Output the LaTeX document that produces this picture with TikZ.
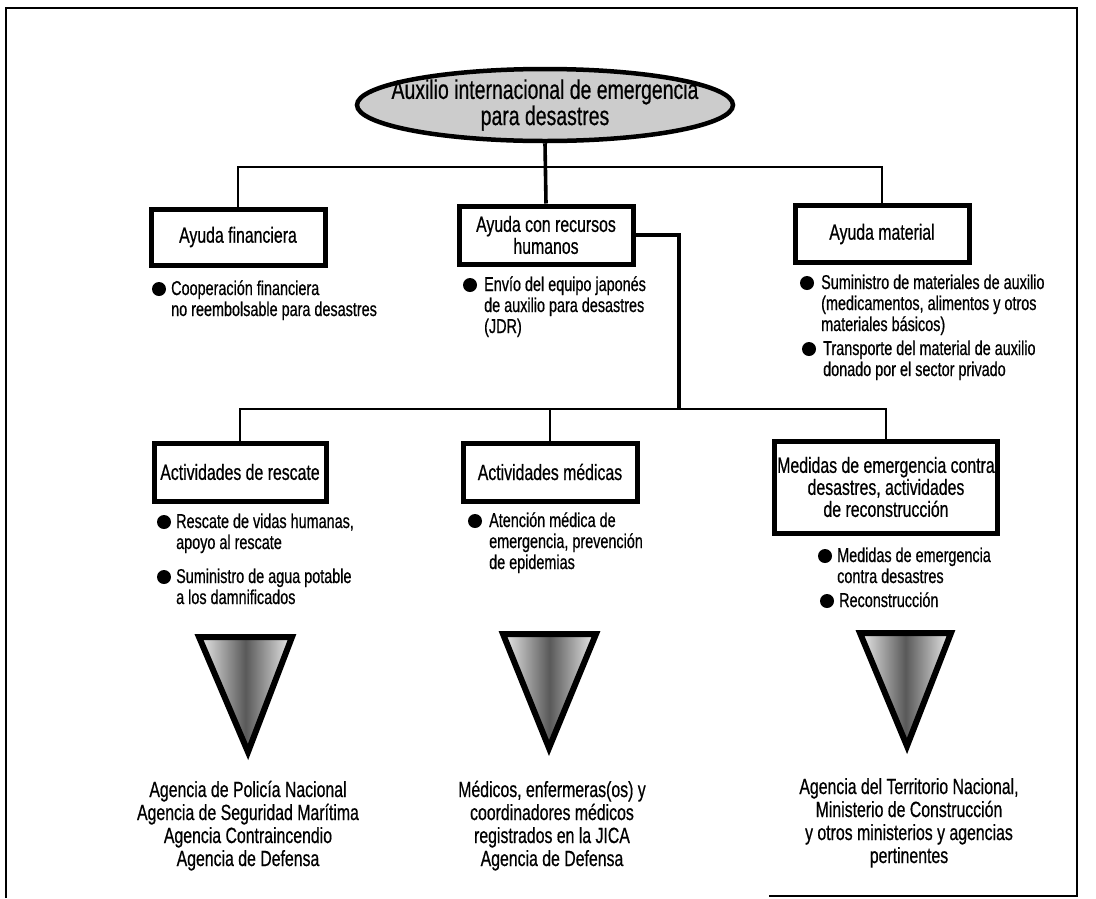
\documentclass[tikz,border=0pt]{standalone}
\usepackage{fontspec}
\setmainfont{Liberation Sans}[FakeStretch=0.72,FakeBold=0.6]
\usetikzlibrary{shapes.geometric}
\begin{document}
\begin{tikzpicture}[x=1pt,y=-1pt,
  box/.style={draw=black, line width=5pt, fill=white, align=center, inner sep=2pt, font=\fontsize{22}{22}\selectfont},
  conn/.style={line width=2.2pt},
  thickconn/.style={line width=3.6pt},
  bul/.style={circle, fill=black, inner sep=0pt, minimum size=14pt},
  btxt/.style={anchor=base west, align=left, inner sep=0pt, font=\fontsize{20}{21}\selectfont},
  ftxt/.style={anchor=base, align=center, inner sep=0pt, font=\fontsize{22}{23}\selectfont},
  tri/.style={draw=black, line width=6pt, line join=miter, left color=gray!15, right color=gray!15, middle color=black!65}
]
\useasboundingbox (0,0) rectangle (1096,898);
% frame
\draw[line width=1.8pt] (6,898) -- (6,8) -- (1077,8) -- (1077,896) -- (769,896);
% title
\node[ellipse, draw=black, line width=4.5pt, fill=gray!40, minimum width=376pt, minimum height=72pt, inner sep=0pt] (ell) at (545,105) {};
\node[font=\fontsize{27}{23}\selectfont, align=center, inner sep=0pt] (title) at (ell.center) {Auxilio internacional de emergencia\\para desastres};
% boxes top
\node[box, minimum width=174pt, minimum height=56pt] (fin) at (238,237) {Ayuda financiera};
\node[box, minimum width=174pt, minimum height=58pt] (hum) at (546,235) {Ayuda con recursos\\humanos};
\node[box, minimum width=174pt, minimum height=57pt] (mat) at (882,234) {Ayuda material};
% boxes bottom
\node[box, minimum width=172pt, minimum height=58pt] (res) at (240,472) {Actividades de rescate};
\node[box, minimum width=174pt, minimum height=58pt] (med) at (550,472) {Actividades médicas};
\node[box, minimum width=223pt, minimum height=92pt] (rec) at (886,487) {Medidas de emergencia contra\\desastres, actividades\\de reconstrucción};
% connectors
\coordinate (b1) at (546,167);
\coordinate (b2) at (679,409);
\draw[thickconn] (ell.south) -- (hum.north);
\draw[conn] (fin.north) |- (b1) -| (mat.north);
\draw[thickconn] (hum.east) -| (b2);
\draw[conn] (res.north) |- (b2) -| (rec.north);
\draw[conn] (med.north) -- (med.north |- b2);
% bullets top (base anchor = last line)
\node[bul] (d1) at (159,289) {};
\node[btxt] (t1) at (171,316) {Cooperación financiera\\no reembolsable para desastres};
\node[bul] (d2) at (470,285) {};
\node[btxt] (t2) at (484,333) {Envío del equipo japonés\\de auxilio para desastres\\(JDR)};
\node[bul] (d3) at (807,283) {};
\node[btxt] (t3) at (821,331) {Suministro de materiales de auxilio\\(medicamentos, alimentos y otros\\materiales básicos)};
\node[bul] (d4) at (809,349) {};
\node[btxt] (t4) at (823,376) {Transporte del material de auxilio\\donado por el sector privado};
% bullets bottom
\node[bul] (d5) at (164,522) {};
\node[btxt] (t5) at (176,549) {Rescate de vidas humanas,\\apoyo al rescate};
\node[bul] (d6) at (164,577) {};
\node[btxt] (t6) at (176,604) {Suministro de agua potable\\a los damnificados};
\node[bul] (d7) at (475,521) {};
\node[btxt] (t7) at (489,569) {Atención médica de\\emergencia, prevención\\de epidemias};
\node[bul] (d8) at (825,556) {};
\node[btxt] (t8) at (837,583) {Medidas de emergencia\\contra desastres};
\node[bul] (d9) at (827,601) {};
\node[btxt] (t9) at (839,607) {Reconstrucción};
% triangles
\path[tri] (199,637) -- (292,637) -- (248,752) -- cycle;
\path[tri] (503,634) -- (596,634) -- (549,748) -- cycle;
\path[tri] (860,633) -- (951,633) -- (907,746) -- cycle;
% bottom texts
\node[ftxt] (a1) at (248,866) {Agencia de Policía Nacional\\Agencia de Seguridad Marítima\\Agencia Contraincendio\\Agencia de Defensa};
\node[ftxt] (a2) at (552,866) {Médicos, enfermeras(os) y\\coordinadores médicos\\registrados en la JICA\\Agencia de Defensa};
\node[ftxt] (a3) at (909,863) {Agencia del Territorio Nacional,\\Ministerio de Construcción\\y otros ministerios y agencias\\pertinentes};
\end{tikzpicture}
\end{document}
